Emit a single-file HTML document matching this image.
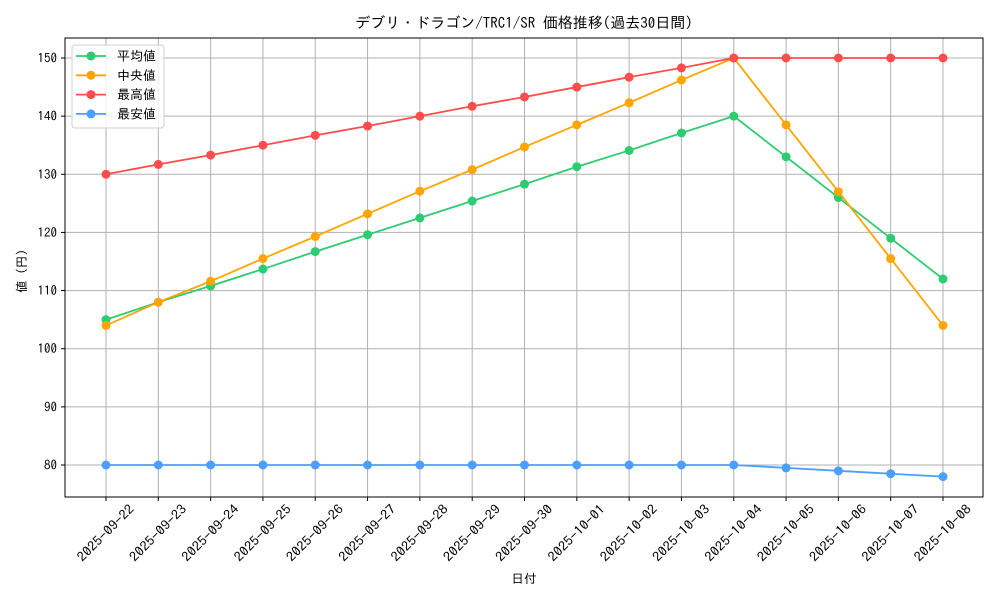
<!DOCTYPE html>
<html><head><meta charset="utf-8"><style>
body{margin:0;background:#fff;font-family:"IPAGothic","Noto Sans CJK JP",sans-serif;}
svg text{font-family:"IPAGothic","Noto Sans CJK JP",monospace;fill:#000;}
</style></head><body>
<svg id="chart" width="1000" height="600" xmlns="http://www.w3.org/2000/svg"></svg>
<script>
const categories=["2025-09-22","2025-09-23","2025-09-24","2025-09-25","2025-09-26","2025-09-27","2025-09-28","2025-09-29","2025-09-30","2025-10-01","2025-10-02","2025-10-03","2025-10-04","2025-10-05","2025-10-06","2025-10-07","2025-10-08"];
const avgValues=[105,108,110.8,113.7,116.7,119.6,122.5,125.4,128.3,131.3,134.1,137.1,140,133,126,119,112];
const medianValues=[104,108,111.6,115.5,119.3,123.2,127.1,130.8,134.7,138.5,142.3,146.2,150,138.5,127,115.5,104];
const maxValues=[130,131.7,133.3,135,136.7,138.3,140,141.7,143.3,145,146.7,148.3,150,150,150,150,150];
const minValues=[80,80,80,80,80,80,80,80,80,80,80,80,80,79.5,79,78.5,78];
const yTicks=[80,90,100,110,120,130,140,150];
const seriesNames=["平均値","中央値","最高値","最安値"];
const seriesColors=["#2ecc71","#ffa500","#ff4d4d","#4d9fff"];
const seriesKeys=["series-average","series-median","series-max","series-min"];

const svg=document.getElementById('chart');
const NS="http://www.w3.org/2000/svg";
const L=65,R=983,T=38,B=497;
const x0=106,x1=943;
function xs(i){return x0+(x1-x0)*i/(categories.length-1);}
function ys(v){return 465-(v-80)*(465-58)/70;}
function el(tag,attrs,parent){const e=document.createElementNS(NS,tag);for(const k in attrs)e.setAttribute(k,attrs[k]);(parent||svg).appendChild(e);return e;}

const grid=el('g',{});


categories.forEach((c,i)=>{el('line',{x1:xs(i),x2:xs(i),y1:T,y2:B,stroke:'#b0b0b0','stroke-width':1},grid);});
yTicks.forEach(v=>{el('line',{x1:L,x2:R,y1:ys(v),y2:ys(v),stroke:'#b0b0b0','stroke-width':1},grid);});

const box=el('rect',{x:L,y:T,width:R-L,height:B-T,fill:'none',stroke:'#000','stroke-width':1});



const yax=el('g',{});


yTicks.forEach(v=>{
  el('line',{x1:L-4,x2:L,y1:ys(v),y2:ys(v),stroke:'#000'},yax);
  const t=el('text',{x:L-8,y:ys(v)+4.5,'text-anchor':'end','font-size':13},yax);t.textContent=v;
});
const xax=el('g',{});


categories.forEach((c,i)=>{
  el('line',{x1:xs(i),x2:xs(i),y1:B,y2:B+4,stroke:'#000'},xax);
  const ax=xs(i)+29, ay=B+13;
  const t=el('text',{x:ax,y:ay,'text-anchor':'end','font-size':13,textLength:74,lengthAdjust:'spacingAndGlyphs',transform:`rotate(-45 ${ax} ${ay})`},xax);t.textContent=c;
});

const data=[avgValues,medianValues,maxValues,minValues];
data.forEach((vals,s)=>{
  const g=el('g',{});
  
  
  el('polyline',{points:vals.map((v,i)=>xs(i)+','+ys(v)).join(' '),fill:'none',stroke:seriesColors[s],'stroke-width':1.8},g);
  vals.forEach((v,i)=>{
    const c=el('circle',{cx:xs(i),cy:ys(v),r:4.5,fill:seriesColors[s]},g);
    
    
  });
});

const title=el('text',{x:524,y:28,'text-anchor':'middle','font-size':15});
title.textContent='デブリ・ドラゴン/TRC1/SR 価格推移(過去30日間)';


const xt=el('text',{x:524,y:583,'text-anchor':'middle','font-size':12.5});
xt.textContent='日付';


const yt=el('text',{x:26,y:268,'text-anchor':'middle','font-size':12.5,transform:'rotate(-90 26 268)'});
yt.textContent='値（円）';



const lg=el('g',{});


el('rect',{x:72,y:45,width:92,height:83,rx:3,fill:'#fff','fill-opacity':0.8,stroke:'#d0d0d0'},lg);
seriesNames.forEach((n,s)=>{
  const y=56+s*19.3;
  const e=el('g',{},lg);
  
  
  el('line',{x1:76,x2:106,y1:y,y2:y,stroke:seriesColors[s],'stroke-width':1.8},e);
  el('circle',{cx:91,cy:y,r:4.5,fill:seriesColors[s]},e);
  const t=el('text',{x:117,y:y+4.5,'font-size':13},e);t.textContent=n;
});
</script>
</body></html>
